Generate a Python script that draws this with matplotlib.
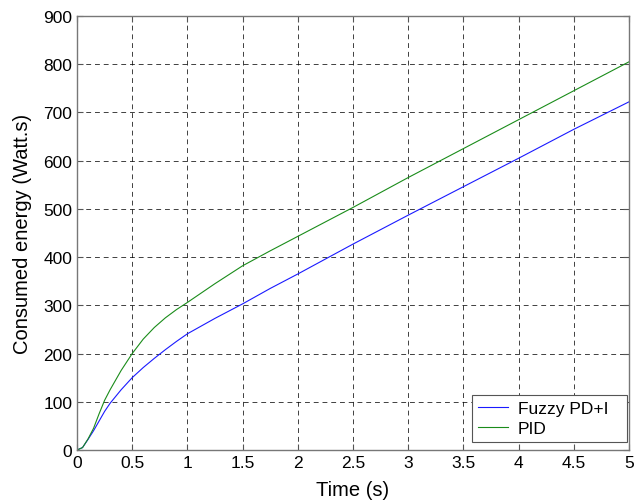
import numpy as np
from matplotlib import pyplot as plt

plt.rcParams['font.family'] = ['Liberation Sans', 'DejaVu Sans']

# time samples (s) and consumed energy for both controllers
t = [0, 0.05, 0.1, 0.15, 0.2, 0.25, 0.3, 0.4, 0.5, 0.6, 0.7, 0.8, 0.9, 1.0,
     1.25, 1.5, 1.75, 2.0, 2.5, 3.0, 3.5, 4.0, 4.5, 5.0]
pid = [0, 5, 23, 45, 75, 103, 125, 165, 200, 230, 254, 274, 291, 306,
       345, 382, 413, 443, 503, 565, 625, 685, 745, 805]
fuzzy = [0, 5, 22, 40, 60, 80, 97, 125, 150, 171, 190, 208, 225, 241,
         273, 303, 335, 365, 427, 487, 546, 605, 665, 722]

fig = plt.figure(figsize=(6.34, 5.02), dpi=100)
ax = fig.add_axes([77/634, 1 - 451/502, 552/634, 434/502])

ax.plot(t, fuzzy, color='#1a1aff', lw=0.8, label='Fuzzy PD+I')
ax.plot(t, pid, color='#1a8c1a', lw=0.8, label='PID')

ax.set_xlim(0, 5)
ax.set_ylim(0, 900)
ax.set_xticks(np.arange(0, 5.01, 0.5))
ax.set_xticklabels(['0', '0.5', '1', '1.5', '2', '2.5', '3', '3.5', '4', '4.5', '5'])
ax.set_yticks(np.arange(0, 901, 100))
ax.grid(True, color='black', linestyle=(0, (5, 4)), linewidth=0.7, alpha=0.75)
ax.tick_params(direction='in', top=True, right=True, labelsize=12.5, length=4,
               color='#555555')
for s in ax.spines.values():
    s.set_color('#777777')
    s.set_linewidth(1.0)

ax.set_xlabel('Time (s)', fontsize=14.5, labelpad=7)
ax.set_ylabel('Consumed energy (Watt.s)', fontsize=14.5, labelpad=8)

# legend box stretched to a fixed width in the lower right corner
leg = ax.legend(loc='lower left', bbox_to_anchor=(0.7156, 0.018, 0.2808, 0.1),
                mode='expand', fontsize=12.5, fancybox=False, framealpha=1,
                edgecolor='#555555', borderaxespad=0, handlelength=1.7,
                handletextpad=0.6, borderpad=0.35, labelspacing=0.3)
leg.get_frame().set_linewidth(0.8)

fig.savefig('out.png', dpi=100)
